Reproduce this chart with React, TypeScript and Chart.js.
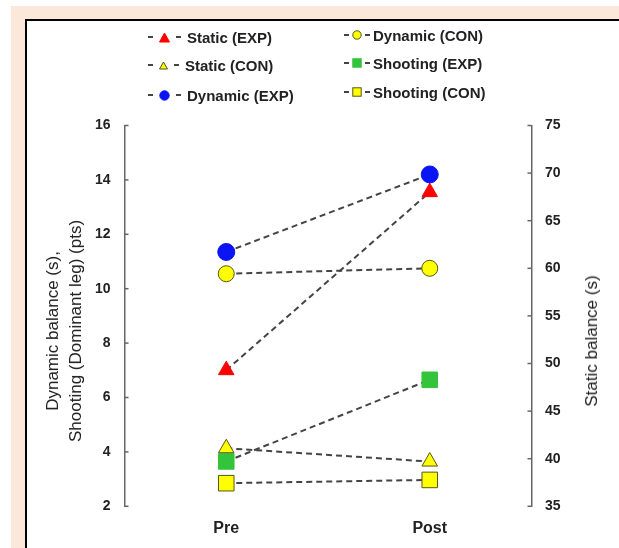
import React, { useEffect, useRef } from "react";
import { Chart, registerables } from "chart.js";

Chart.register(...registerables);

// ---------- data ----------
const categories = ["Pre", "Post"];
const staticExp = [49.3, 68.0];
const staticCon = [41.1, 39.7];
const dynamicExp = [11.35, 14.2];
const dynamicCon = [10.55, 10.75];
const shootingExp = [3.65, 6.65];
const shootingCon = [2.85, 2.97];

const leftMin = 2;
const leftMax = 16;
const leftStep = 2;
const rightMin = 35;
const rightMax = 75;
const rightStep = 5;

const leftTitleLines = ["Dynamic balance (s),", "Shooting (Dominant leg) (pts)"];
const rightTitle = "Static balance (s)";

// ---------- styles ----------
const FONT = "'Liberation Sans', Arial, sans-serif";
const AXIS_COLOR = "#666";
const LINE_COLOR = "#444";
const TEXT_COLOR = "#222";
const RED = "#ff0000";
const BLUE = "#0a14f5";
const GREEN = "#33c43c";
const YELLOW = "#ffff00";
const YELLOW_EDGE = "#55551a";

type Shape = "triangle" | "circle" | "rect";

interface SeriesDef {
  label: string;
  data: number[];
  axis: "y" | "y1";
  shape: Shape;
  fill: string;
  edge: string;
  radius: number;
  order: number;
}

const series: SeriesDef[] = [
  { label: "Static (EXP)", data: staticExp, axis: "y1", shape: "triangle", fill: RED, edge: RED, radius: 9, order: 3 },
  { label: "Static (CON)", data: staticCon, axis: "y1", shape: "triangle", fill: YELLOW, edge: YELLOW_EDGE, radius: 9, order: 4 },
  { label: "Dynamic (EXP)", data: dynamicExp, axis: "y", shape: "circle", fill: BLUE, edge: BLUE, radius: 8.5, order: 1 },
  { label: "Dynamic (CON)", data: dynamicCon, axis: "y", shape: "circle", fill: YELLOW, edge: YELLOW_EDGE, radius: 8, order: 2 },
  { label: "Shooting (EXP)", data: shootingExp, axis: "y", shape: "rect", fill: GREEN, edge: GREEN, radius: 11, order: 5 },
  { label: "Shooting (CON)", data: shootingCon, axis: "y", shape: "rect", fill: YELLOW, edge: YELLOW_EDGE, radius: 11, order: 6 },
];

// legend layout: [x of first dash, row centre y] for each series
const legendPos: [number, number][] = [
  [148, 37],
  [148, 65],
  [148, 95],
  [344, 35],
  [344, 63],
  [344, 92],
];

const inwardTicks = {
  id: "inwardTicks",
  afterDraw(chart: any) {
    const ctx = chart.ctx;
    const { left, right } = chart.chartArea;
    ctx.save();
    ctx.strokeStyle = AXIS_COLOR;
    ctx.lineWidth = 1.5;
    const yl = chart.scales.y;
    yl.ticks.forEach((t: any) => {
      const p = yl.getPixelForValue(t.value);
      ctx.beginPath();
      ctx.moveTo(left, p);
      ctx.lineTo(left + 4, p);
      ctx.stroke();
    });
    const yr = chart.scales.y1;
    yr.ticks.forEach((t: any) => {
      const p = yr.getPixelForValue(t.value);
      ctx.beginPath();
      ctx.moveTo(right, p);
      ctx.lineTo(right - 4, p);
      ctx.stroke();
    });
    ctx.restore();
  },
};

function Marker({ shape, fill, edge, size }: { shape: Shape; fill: string; edge: string; size: number }) {
  const s = size;
  let el: React.ReactNode = null;
  if (shape === "triangle") {
    el = <polygon points={`${s / 2},1 ${s - 0.5},${s - 1} 0.5,${s - 1}`} fill={fill} stroke={edge} strokeWidth={1} />;
  } else if (shape === "circle") {
    el = <circle cx={s / 2} cy={s / 2} r={s / 2 - 0.8} fill={fill} stroke={edge} strokeWidth={1} />;
  } else {
    el = <rect x={0.8} y={0.8} width={s - 1.6} height={s - 1.6} fill={fill} stroke={edge} strokeWidth={1} />;
  }
  return (
    <svg width={s} height={s} style={{ display: "block" }}>
      {el}
    </svg>
  );
}

function Dash() {
  return <span style={{ display: "block", width: 5, height: 2, background: LINE_COLOR }} />;
}

export default function App() {
  const canvasRef = useRef<HTMLCanvasElement | null>(null);

  useEffect(() => {
    if (!canvasRef.current) return;
    const chart = new Chart(canvasRef.current, {
      type: "line",
      data: {
        labels: categories,
        datasets: series.map((s) => ({
          label: s.label,
          data: s.data,
          yAxisID: s.axis,
          order: s.order,
          borderColor: LINE_COLOR,
          borderWidth: 2,
          borderDash: [6, 4],
          fill: false,
          tension: 0,
          pointStyle: s.shape,
          pointRadius: s.radius,
          pointHoverRadius: s.radius,
          pointBackgroundColor: s.fill,
          pointBorderColor: s.edge,
          pointBorderWidth: 1,
        })),
      },
      options: {
        responsive: false,
        animation: false,
        devicePixelRatio: 1,
        layout: { padding: { top: 125.5, left: 0, right: 0, bottom: 0 } },
        plugins: {
          legend: { display: false },
          tooltip: { enabled: false },
        },
        scales: {
          x: {
            type: "category",
            offset: true,
            grid: { display: false, drawTicks: false },
            border: { display: false },
            ticks: {
              color: TEXT_COLOR,
              padding: 13,
              font: { family: FONT, size: 16, weight: "bold" },
            },
            afterFit: (s: any) => {
              s.height = 41.7;
            },
          },
          y: {
            type: "linear",
            position: "left",
            min: leftMin,
            max: leftMax,
            grid: { display: false, drawTicks: false },
            border: { display: true, color: AXIS_COLOR, width: 1.5 },
            ticks: {
              stepSize: leftStep,
              color: TEXT_COLOR,
              padding: 14,
              font: { family: FONT, size: 14, weight: "bold" },
            },
            afterFit: (s: any) => {
              s.width = 124.5;
            },
          },
          y1: {
            type: "linear",
            position: "right",
            min: rightMin,
            max: rightMax,
            grid: { display: false, drawTicks: false },
            border: { display: true, color: AXIS_COLOR, width: 1.5 },
            ticks: {
              stepSize: rightStep,
              color: TEXT_COLOR,
              padding: 13.5,
              font: { family: FONT, size: 14, weight: "bold" },
            },
            afterFit: (s: any) => {
              s.width = 87.5;
            },
          },
        },
      },
      plugins: [inwardTicks],
    } as any);
    return () => chart.destroy();
  }, []);

  return (
    <div style={{ position: "absolute", left: 0, top: 0, width: 619, height: 548, background: "#fff", overflow: "hidden", fontFamily: FONT }}>
      <div style={{ position: "absolute", left: 11, top: 6, width: 608, height: 542, background: "#fce8da" }} />
      <div
        style={{
          position: "absolute",
          left: 25,
          top: 19,
          width: 594,
          height: 529,
          background: "#fff",
          borderLeft: "2px solid #000",
          borderTop: "2px solid #000",
          boxSizing: "border-box",
        }}
      />
      <canvas ref={canvasRef} width={619} height={548} style={{ position: "absolute", left: 0, top: 0, width: 619, height: 548 }} />

      {series.map((s, i) => {
        const [x, y] = legendPos[i];
        const msize = s.shape === "triangle" ? (s.fill === YELLOW ? 9 : 11) : s.shape === "circle" ? (s.fill === YELLOW ? 10 : 11) : 10;
        const gap = i < 3 ? 6 : 3;
        return (
          <div
            key={s.label}
            style={{
              position: "absolute",
              left: x,
              top: y - 10,
              height: 20,
              display: "flex",
              alignItems: "center",
              whiteSpace: "nowrap",
              fontSize: 15,
              fontWeight: "bold",
              color: TEXT_COLOR,
            }}
          >
            <Dash />
            <span style={{ width: gap }} />
            <Marker shape={s.shape} fill={s.fill} edge={s.edge} size={msize} />
            <span style={{ width: gap }} />
            <Dash />
            <span style={{ width: gap }} />
            <span>{s.label}</span>
          </div>
        );
      })}

      <div
        style={{
          position: "absolute",
          left: 63.5,
          top: 331,
          transform: "translate(-50%, -50%) rotate(-90deg)",
          whiteSpace: "nowrap",
          textAlign: "center",
          fontSize: 17,
          lineHeight: "23px",
          color: TEXT_COLOR,
        }}
      >
        {leftTitleLines.map((t) => (
          <div key={t}>{t}</div>
        ))}
      </div>
      <div
        style={{
          position: "absolute",
          left: 592,
          top: 341,
          transform: "translate(-50%, -50%) rotate(-90deg)",
          whiteSpace: "nowrap",
          fontSize: 17,
          lineHeight: "20px",
          color: TEXT_COLOR,
        }}
      >
        {rightTitle}
      </div>
    </div>
  );
}
